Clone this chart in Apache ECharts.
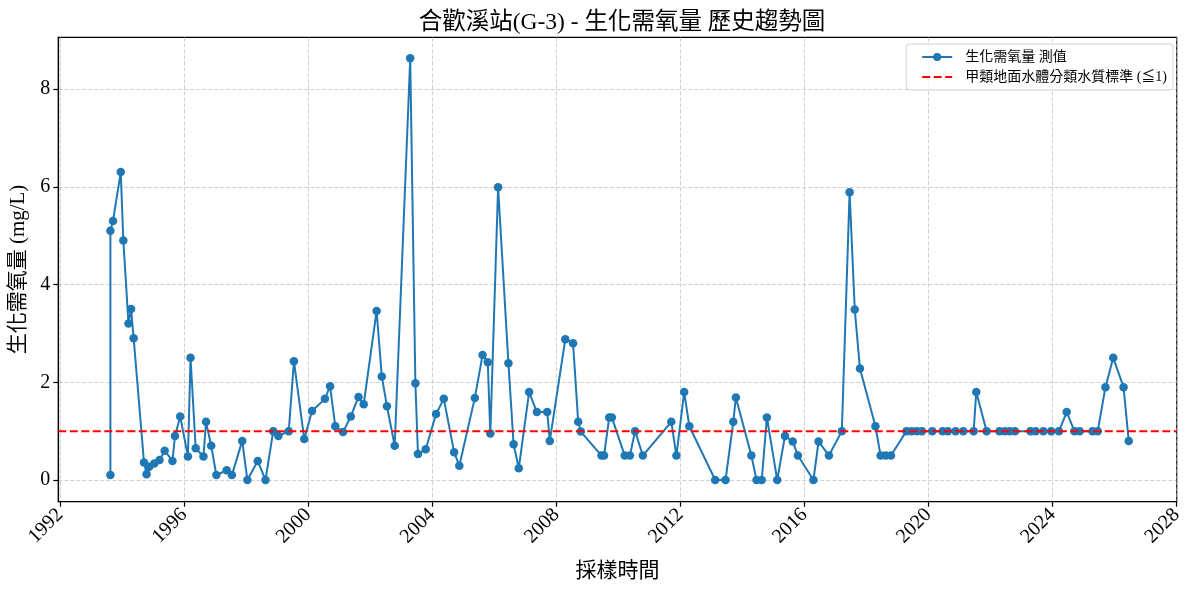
<!DOCTYPE html>
<html lang="zh-Hant">
<head>
<meta charset="utf-8">
<title>合歡溪站(G-3) - 生化需氧量 歷史趨勢圖</title>
<script src="https://cdn.jsdelivr.net/npm/echarts@6/dist/echarts.min.js"></script>
<style>
    html, body { margin: 0; padding: 0; background: #fff; }
    #chart { width: 1189px; height: 590px; }
</style>
</head>
<body>
<div id="chart"></div>
<script>
// 採樣日期 (年-月)
const sampleDates = [
    '1993-08', '1993-08', '1993-09', '1993-12', '1994-01', '1994-03', '1994-04', '1994-05',
    '1994-09', '1994-10', '1994-11', '1995-01', '1995-03', '1995-05', '1995-08', '1995-09',
    '1995-11', '1996-02', '1996-03', '1996-05', '1996-08', '1996-09', '1996-11', '1997-01',
    '1997-05', '1997-07', '1997-11', '1998-01', '1998-05', '1998-08', '1998-11', '1999-01',
    '1999-05', '1999-07', '1999-11', '2000-02', '2000-07', '2000-09', '2000-11', '2001-02',
    '2001-05', '2001-08', '2001-10', '2002-03', '2002-05', '2002-07', '2002-10', '2003-04',
    '2003-06', '2003-07', '2003-10', '2004-02', '2004-05', '2004-09', '2004-11', '2005-05',
    '2005-08', '2005-10', '2005-11', '2006-02', '2006-06', '2006-08', '2006-10', '2007-02',
    '2007-05', '2007-09', '2007-10', '2008-04', '2008-07', '2008-09', '2008-10', '2009-06',
    '2009-07', '2009-09', '2009-10', '2010-03', '2010-05', '2010-07', '2010-10', '2011-09',
    '2011-11', '2012-02', '2012-04', '2013-02', '2013-06', '2013-09', '2013-10', '2014-04',
    '2014-06', '2014-08', '2014-10', '2015-02', '2015-05', '2015-08', '2015-10', '2016-04',
    '2016-06', '2016-10', '2017-03', '2017-06', '2017-08', '2017-10', '2018-04', '2018-06',
    '2018-08', '2018-10', '2019-04', '2019-06', '2019-08', '2019-10', '2020-02', '2020-06',
    '2020-08', '2020-11', '2021-02', '2021-06', '2021-07', '2021-11', '2022-04', '2022-06',
    '2022-08', '2022-10', '2023-04', '2023-06', '2023-09', '2023-12', '2024-03', '2024-06',
    '2024-09', '2024-11', '2025-04', '2025-06', '2025-09', '2025-12', '2026-04', '2026-06'
];

// 生化需氧量 測值 (mg/L)
const bodValues = [
    0.1, 5.1, 5.3, 6.3, 4.9, 3.2, 3.5, 2.9,
    0.36, 0.12, 0.27, 0.34, 0.41, 0.6, 0.39, 0.9,
    1.3, 0.48, 2.5, 0.65, 0.48, 1.19, 0.7, 0.1,
    0.2, 0.1, 0.8, 0.0, 0.39, 0.0, 1.0, 0.9,
    1.0, 2.43, 0.84, 1.41, 1.66, 1.92, 1.1, 0.98,
    1.3, 1.7, 1.55, 3.46, 2.12, 1.51, 0.7, 8.63,
    1.98, 0.53, 0.63, 1.35, 1.66, 0.57, 0.29, 1.68,
    2.56, 2.41, 0.95, 5.99, 2.39, 0.73, 0.24, 1.8,
    1.39, 1.39, 0.8, 2.88, 2.8, 1.19, 0.99, 0.5,
    0.5, 1.28, 1.28, 0.5, 0.5, 1.0, 0.5, 1.19,
    0.5, 1.8, 1.1, 0.0, 0.0, 1.19, 1.69, 0.5,
    0.0, 0.0, 1.28, 0.0, 0.9, 0.79, 0.5, 0.0,
    0.79, 0.5, 1.0, 5.89, 3.49, 2.28, 1.1, 0.5,
    0.5, 0.5, 1.0, 1.0, 1.0, 1.0, 1.0, 1.0,
    1.0, 1.0, 1.0, 1.0, 1.8, 1.0, 1.0, 1.0,
    1.0, 1.0, 1.0, 1.0, 1.0, 1.0, 1.0, 1.39,
    1.0, 1.0, 1.0, 1.0, 1.9, 2.5, 1.9, 0.8
];

// 甲類地面水體分類水質標準
const standardLimit = 1;

// 刻度
const xTickYears = [1992, 1996, 2000, 2004, 2008, 2012, 2016, 2020, 2024, 2028];
const yTickValues = [0, 2, 4, 6, 8];

// 軸範圍 (與原圖一致)
const xMin = 1991.945;
const xMax = 2028.005;
const yMin = -0.444;
const yMax = 9.058;

const serifFont = '"Liberation Serif", "Noto Sans CJK TC", serif';
const gridColor = 'rgba(176, 176, 176, 0.6)';

// 年-月 轉成小數年
const toYear = (s) => {
    const parts = s.split('-');
    return Number(parts[0]) + (Number(parts[1]) - 0.5) / 12;
};

const bodData = sampleDates.map((d, i) => [toYear(d), bodValues[i]]);

const chart = echarts.init(document.getElementById('chart'));
const option = {
    animation: false,
    backgroundColor: '#fff',
    textStyle: { fontFamily: serifFont },
    title: {
        text: '合歡溪站(G-3) - 生化需氧量 歷史趨勢圖',
        left: 617,
        top: 6,
        textAlign: 'center',
        textStyle: {
            fontFamily: serifFont,
            fontSize: 23.5,
            fontWeight: 'normal',
            color: '#000'
        }
    },
    legend: {
        orient: 'vertical',
        right: 16,
        top: 44,
        itemWidth: 30,
        itemHeight: 10,
        itemGap: 6,
        padding: [6, 6, 6, 15],
        borderColor: '#d0d0d0',
        borderWidth: 1,
        borderRadius: 3,
        backgroundColor: 'rgba(255,255,255,0.8)',
        textStyle: {
            fontFamily: serifFont,
            fontSize: 14,
            color: '#000',
            padding: [0, 0, 0, 8]
        },
        data: [
            { name: '生化需氧量 測值' },
            { name: '甲類地面水體分類水質標準 (≦1)', itemStyle: { opacity: 0 } }
        ]
    },
    grid: {
        left: 58.3,
        right: 12.3,
        top: 37.3,
        bottom: 88.3,
        show: true,
        borderColor: '#000',
        borderWidth: 1.2,
        containLabel: false
    },
    xAxis: {
        type: 'value',
        min: xMin,
        max: xMax,
        name: '採樣時間',
        nameLocation: 'middle',
        nameGap: 59,
        nameTextStyle: { fontFamily: serifFont, fontSize: 21, color: '#000' },
        axisLine: { show: true, onZero: false, lineStyle: { color: '#000', width: 1.2 } },
        axisTick: {
            show: true,
            customValues: xTickYears,
            length: 5,
            lineStyle: { color: '#000', width: 1.2 }
        },
        axisLabel: {
            customValues: xTickYears,
            rotate: 45,
            margin: 10,
            fontFamily: serifFont,
            fontSize: 20,
            color: '#000',
            formatter: (v) => String(Math.round(v))
        },
        splitLine: {
            show: true,
            lineStyle: { color: gridColor, type: [4, 2], width: 1 }
        }
    },
    yAxis: {
        type: 'value',
        min: yMin,
        max: yMax,
        name: '生化需氧量 (mg/L)',
        nameLocation: 'middle',
        nameRotate: 90,
        nameGap: 29,
        nameTextStyle: { fontFamily: serifFont, fontSize: 21, color: '#000' },
        axisLine: { show: true, onZero: false, lineStyle: { color: '#000', width: 1.2 } },
        axisTick: {
            show: true,
            customValues: yTickValues,
            length: 5,
            lineStyle: { color: '#000', width: 1.2 }
        },
        axisLabel: {
            customValues: yTickValues,
            margin: 8,
            fontFamily: serifFont,
            fontSize: 20,
            color: '#000'
        },
        splitLine: {
            show: true,
            lineStyle: { color: gridColor, type: [4, 2], width: 1 }
        }
    },
    series: [
        {
            name: '生化需氧量 測值',
            type: 'line',
            data: bodData,
            color: '#1f77b4',
            symbol: 'circle',
            symbolSize: 8.5,
            showAllSymbol: true,
            lineStyle: { width: 2, color: '#1f77b4' },
            itemStyle: { color: '#1f77b4' },
            z: 3
        },
        {
            name: '甲類地面水體分類水質標準 (≦1)',
            type: 'line',
            data: [[xMin, standardLimit], [xMax, standardLimit]],
            color: '#ff0000',
            symbol: 'none',
            lineStyle: { width: 2, color: '#ff0000', type: [8, 3.5] },
            z: 4
        }
    ]
};
chart.setOption(option);
</script>
</body>
</html>
